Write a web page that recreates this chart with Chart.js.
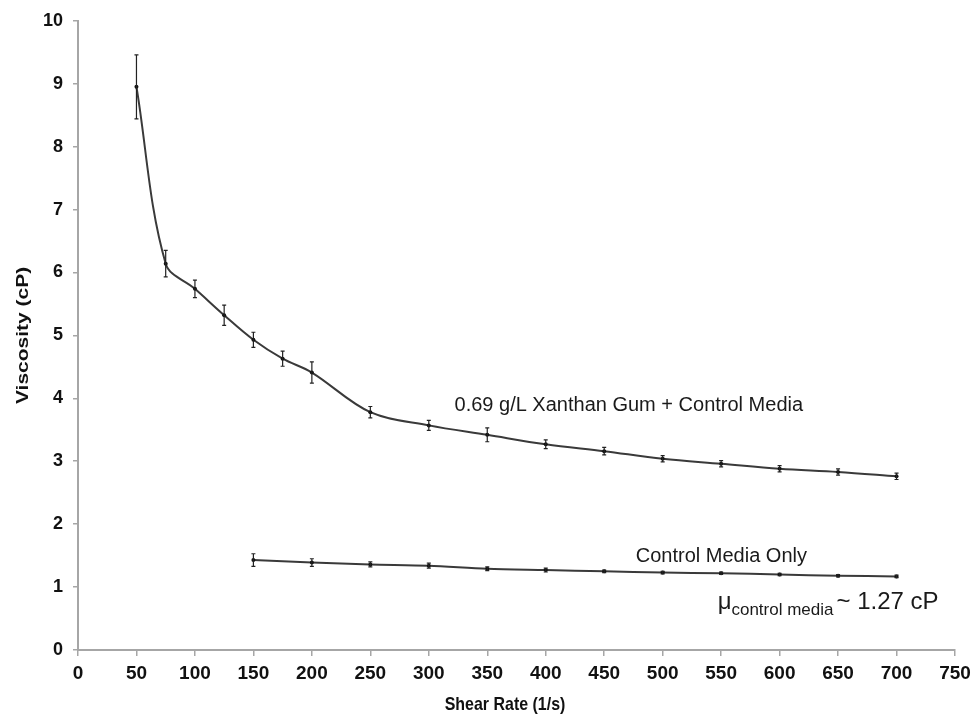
<!DOCTYPE html>
<html>
<head>
<meta charset="utf-8">
<script src="https://cdn.jsdelivr.net/npm/chart.js@4"></script>
<style>
  html, body { margin: 0; padding: 0; background: #fff; }
  #wrap { width: 972px; height: 714px; }
</style>
</head>
<body>
<div id="wrap"><canvas id="chart" width="972" height="714"></canvas></div>
<script>
// shear rate (1/s)
const xanthanRates = [50, 75, 100, 125, 150, 175, 200, 250, 300, 350, 400, 450, 500, 550, 600, 650, 700];
const xanthanVisc = [8.95, 6.14, 5.74, 5.32, 4.93, 4.63, 4.41, 3.78, 3.57, 3.42, 3.27, 3.16, 3.04, 2.96, 2.88, 2.83, 2.76];
const xanthanErr = [0.51, 0.21, 0.14, 0.16, 0.12, 0.12, 0.17, 0.09, 0.08, 0.11, 0.07, 0.06, 0.05, 0.05, 0.05, 0.05, 0.05];

const controlRates = [150, 200, 250, 300, 350, 400, 450, 500, 550, 600, 650, 700];
const controlVisc = [1.43, 1.39, 1.36, 1.34, 1.29, 1.27, 1.25, 1.23, 1.22, 1.20, 1.18, 1.17];
const controlErr = [0.10, 0.06, 0.04, 0.04, 0.03, 0.03, 0.02, 0.02, 0.02, 0.02, 0.02, 0.02];

const xTicks = [0, 50, 100, 150, 200, 250, 300, 350, 400, 450, 500, 550, 600, 650, 700, 750];
const yTicks = [0, 1, 2, 3, 4, 5, 6, 7, 8, 9, 10];

const lineColor = "#3a3a3a";
const axisColor = "#a6a6a6";
const fontFam = "'Liberation Sans', Arial, sans-serif";

const toPoints = (xs, ys) => xs.map((x, i) => ({ x: x, y: ys[i] }));

// error bars, drawn through the chart's own scales
const errorBars = {
  id: "errorBars",
  afterDatasetsDraw(chart) {
    const { ctx, scales } = chart;
    const sets = [[xanthanRates, xanthanVisc, xanthanErr], [controlRates, controlVisc, controlErr]];
    ctx.save();
    ctx.strokeStyle = "#222";
    ctx.lineWidth = 1.2;
    sets.forEach(([xs, ys, es]) => {
      xs.forEach((x, i) => {
        const px = scales.x.getPixelForValue(x);
        const top = scales.y.getPixelForValue(ys[i] + es[i]);
        const bot = scales.y.getPixelForValue(ys[i] - es[i]);
        ctx.beginPath();
        ctx.moveTo(px, top); ctx.lineTo(px, bot);
        ctx.moveTo(px - 2, top); ctx.lineTo(px + 2, top);
        ctx.moveTo(px - 2, bot); ctx.lineTo(px + 2, bot);
        ctx.stroke();
      });
    });
    ctx.restore();
  }
};

// axis titles (bold, slightly condensed like the original) and curve labels
const labels = {
  id: "labels",
  afterDraw(chart) {
    const { ctx, scales, chartArea } = chart;
    const X = v => scales.x.getPixelForValue(v);
    const Y = v => scales.y.getPixelForValue(v);
    ctx.save();
    ctx.fillStyle = "#111";

    // y title
    ctx.save();
    ctx.translate(23, (chartArea.top + chartArea.bottom) / 2);
    ctx.rotate(-Math.PI / 2);
    ctx.scale(1, 0.82);
    ctx.font = "bold 21px " + fontFam;
    ctx.textAlign = "center";
    ctx.textBaseline = "middle";
    ctx.fillText("Viscosity (cP)", 0, 0);
    ctx.restore();

    // x title
    ctx.save();
    ctx.translate(505, 705);
    ctx.scale(0.84, 1);
    ctx.font = "bold 19px " + fontFam;
    ctx.textAlign = "center";
    ctx.textBaseline = "middle";
    ctx.fillText("Shear Rate (1/s)", 0, 0);
    ctx.restore();

    ctx.fillStyle = "#1a1a1a";
    ctx.textBaseline = "alphabetic";
    ctx.textAlign = "left";
    ctx.font = "20px " + fontFam;
    ctx.fillText("0.69 g/L Xanthan Gum + Control Media", X(322), Y(3.8));
    ctx.fillText("Control Media Only", X(477), Y(1.395));

    let x = X(547);
    const base = Y(0.65);
    ctx.font = "24px " + fontFam;
    ctx.fillText("\u03bc", x, base);
    x += ctx.measureText("\u03bc").width;
    ctx.font = "17px " + fontFam;
    ctx.fillText("control media", x, base + 6);
    x += ctx.measureText("control media").width + 3;
    ctx.font = "24px " + fontFam;
    ctx.fillText("~ 1.27 cP", x, base);
    ctx.restore();
  }
};

const ctx = document.getElementById("chart").getContext("2d");
new Chart(ctx, {
  type: "line",
  data: {
    datasets: [
      {
        label: "0.69 g/L Xanthan Gum + Control Media",
        data: toPoints(xanthanRates, xanthanVisc),
        borderColor: lineColor,
        backgroundColor: "#111",
        borderWidth: 2,
        pointRadius: 2,
        pointBorderWidth: 0,
        tension: 0.35,
        fill: false
      },
      {
        label: "Control Media Only",
        data: toPoints(controlRates, controlVisc),
        borderColor: lineColor,
        backgroundColor: "#111",
        borderWidth: 2,
        pointRadius: 2,
        pointBorderWidth: 0,
        tension: 0.3,
        fill: false
      }
    ]
  },
  options: {
    responsive: false,
    animation: false,
    layout: { padding: { top: 20, right: 0, left: 0, bottom: 0 } },
    plugins: { legend: { display: false }, tooltip: { enabled: false } },
    scales: {
      x: {
        type: "linear",
        min: 0,
        max: 750,
        afterBuildTicks: axis => { axis.ticks = xTicks.map(v => ({ value: v })); },
        afterFit: axis => { axis.height = 64; axis.paddingRight = 17; },
        border: { color: axisColor, width: 2 },
        grid: { drawOnChartArea: false, color: axisColor, tickLength: 6, lineWidth: 1.5 },
        ticks: {
          color: "#111",
          padding: 6,
          maxRotation: 0,
          font: { family: fontFam, size: 19, weight: "bold" }
        }
      },
      y: {
        type: "linear",
        min: 0,
        max: 10,
        afterBuildTicks: axis => { axis.ticks = yTicks.map(v => ({ value: v })); },
        afterFit: axis => { axis.width = 78; },
        border: { color: axisColor, width: 2 },
        grid: { drawOnChartArea: false, color: axisColor, tickLength: 5, lineWidth: 1.5 },
        ticks: {
          color: "#111",
          padding: 10,
          font: { family: fontFam, size: 18, weight: "bold" }
        }
      }
    }
  },
  plugins: [errorBars, labels]
});
</script>
</body>
</html>
